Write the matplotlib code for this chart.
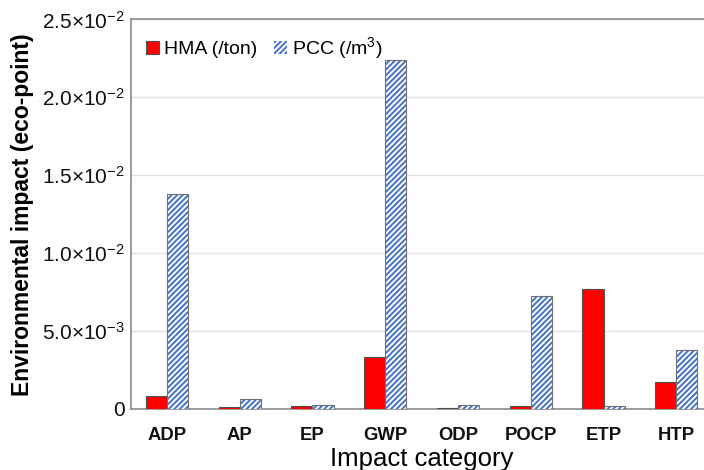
import matplotlib
matplotlib.use("Agg")
import matplotlib.pyplot as plt
import numpy as np

categories = ["ADP", "AP", "EP", "GWP", "ODP", "POCP", "ETP", "HTP"]
hma = [0.00083, 0.00015, 0.00019, 0.00334, 0.00006, 0.00019, 0.00772, 0.00175]
pcc = [0.0138, 0.00062, 0.00026, 0.02242, 0.00024, 0.00725, 0.00019, 0.00381]
yticks = [0, 0.005, 0.010, 0.015, 0.020, 0.025]
ytick_labels = ["0", r"$\mathregular{5.0{\times}10^{-3}}$", r"$\mathregular{1.0{\times}10^{-2}}$",
                r"$\mathregular{1.5{\times}10^{-2}}$", r"$\mathregular{2.0{\times}10^{-2}}$",
                r"$\mathregular{2.5{\times}10^{-2}}$"]

plt.rcParams['font.family'] = ['Liberation Sans', 'DejaVu Sans']
plt.rcParams['mathtext.fontset'] = 'custom'
plt.rcParams['mathtext.rm'] = 'Liberation Sans'
plt.rcParams['hatch.linewidth'] = 1.4

fig = plt.figure(figsize=(7.04, 4.70), dpi=100)
ax = fig.add_axes([130.5/704, 61/470, (712.7-130.5)/704, (409-19.4)/470])

x = np.arange(len(categories))
w = 0.29
ax.bar(x - w/2, hma, w, color='#FF0000', edgecolor='#505050', linewidth=0.8,
       label='HMA (/ton)', zorder=3)
ax.bar(x + w/2, pcc, w, color='white', edgecolor='#4472C4', hatch='//////', linewidth=0,
       label=r'PCC (/m$\mathregular{^3}$)', zorder=3)
ax.bar(x + w/2, pcc, w, fill=False, edgecolor='#707070', linewidth=0.8, zorder=4)

ax.set_xlim(-0.5, 7.5)
ax.set_ylim(0, 0.025)
ax.set_yticks(yticks)
ax.set_yticklabels(ytick_labels, fontsize=15, color='#222222')
ax.set_xticks(x)
ax.set_xticklabels(categories, fontsize=13.3, fontweight='bold')
ax.tick_params(axis='both', length=0, colors='#111111')
ax.tick_params(axis='x', pad=13)
ax.tick_params(axis='y', pad=4)
ax.yaxis.grid(True, color='#e2e2e2', linewidth=1, zorder=0)
ax.set_axisbelow(True)
for s in ['left', 'bottom', 'top']:
    ax.spines[s].set_color('#8a8a8a')
    ax.spines[s].set_linewidth(1.2)
ax.spines['right'].set_visible(False)

ax.set_xlabel('Impact category', fontsize=18.5, labelpad=2)
ax.set_ylabel('Environmental impact (eco-point)', fontsize=16.5, fontweight='bold', labelpad=6)

ax.legend(loc='upper left', ncol=2, frameon=False, fontsize=14, handlelength=0.65,
          handleheight=0.65, handletextpad=0.25, columnspacing=0.9,
          bbox_to_anchor=(0.0, 1.0), borderaxespad=0.4)

fig.savefig('out.png', dpi=100)
